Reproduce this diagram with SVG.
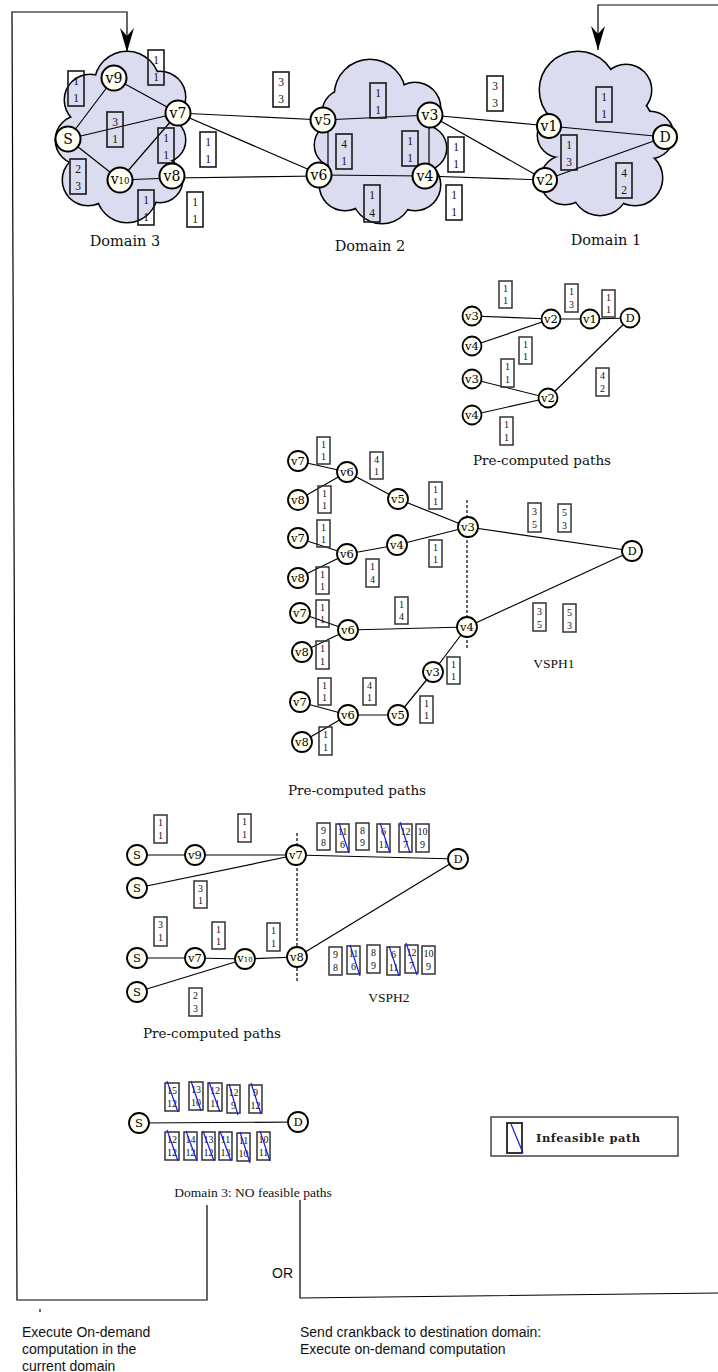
<svg xmlns="http://www.w3.org/2000/svg" xmlns:xlink="http://www.w3.org/1999/xlink" width="718" height="1372" viewBox="0 0 718 1372">
<style>
.bg{fill:#fff}
.clo{fill:#dcdcf0;stroke:#000;stroke-width:3}
.cli{fill:#dcdcf0;stroke:none}
.nd circle{fill:#fffff4;stroke:#000;stroke-width:2}
.nd text{font-family:"DejaVu Serif","Liberation Serif",serif;font-size:14px;text-anchor:middle;fill:#000}
.sm circle{stroke-width:1.8}
.sm text{font-size:11.5px}
.ed line,.ed polyline{stroke:#000;stroke-width:1.2;fill:none}
.dash{stroke:#000;stroke-width:1;stroke-dasharray:3 2;fill:none}
.fb{stroke:#000;stroke-width:1.5;fill:none}
.bx rect{fill:none;stroke:#1a1a1a;stroke-width:1.6}
.bx text{font-family:"Liberation Serif","DejaVu Serif",serif;font-size:11.5px;text-anchor:middle;fill:#111}
.bs rect{stroke:#333;stroke-width:1.5}
.bs text{font-size:10px}
.x{stroke:#1a1ae6;stroke-width:1.2}
.lbl{font-family:"DejaVu Serif","Liberation Serif",serif;font-size:13.5px;text-anchor:middle;fill:#111}
.dom{font-size:14.5px}
.lbt{font-family:"Liberation Serif","DejaVu Serif",serif;font-size:13.5px;text-anchor:middle;fill:#111}
.sans{font-family:"Liberation Sans",Arial,sans-serif;font-size:14px;fill:#111}
</style>
<defs>
<marker id="arr" viewBox="0 0 14 24" refX="7" refY="24" markerWidth="14" markerHeight="24" markerUnits="userSpaceOnUse" orient="0">
<path d="M0,0 L7,8 L14,0 L7,24 z" fill="#000"/>
</marker>
<g id="c3">
<circle cx="121" cy="137" r="50"/><circle cx="127" cy="84" r="32"/><circle cx="90" cy="100" r="25"/><circle cx="80" cy="140" r="24"/><circle cx="88" cy="180" r="25"/><circle cx="127" cy="192" r="30"/><circle cx="160" cy="180" r="22"/><circle cx="163" cy="140" r="22"/><circle cx="160" cy="97" r="25"/>
</g>
<g id="c2">
<circle cx="380" cy="142" r="50"/><circle cx="370" cy="95" r="35"/><circle cx="415" cy="108" r="25"/><circle cx="424" cy="148" r="22"/><circle cx="415" cy="185" r="25"/><circle cx="382" cy="193" r="30"/><circle cx="345" cy="185" r="25"/><circle cx="337" cy="145" r="22"/><circle cx="345" cy="112" r="22"/>
</g>
<g id="c1">
<circle cx="605" cy="135" r="50"/><circle cx="578" cy="90" r="38"/><circle cx="626" cy="90" r="25"/><circle cx="650" cy="135" r="23"/><circle cx="635" cy="178" r="27"/><circle cx="600" cy="187" r="28"/><circle cx="565" cy="180" r="24"/><circle cx="560" cy="135" r="22"/>
</g>
</defs>
<rect class="bg" width="718" height="1372"/>

<g id="domain3-cloud"><use xlink:href="#c3" class="clo"/><use xlink:href="#c3" class="cli"/></g>
<g id="domain2-cloud"><use xlink:href="#c2" class="clo"/><use xlink:href="#c2" class="cli"/></g>
<g id="domain1-cloud"><use xlink:href="#c1" class="clo"/><use xlink:href="#c1" class="cli"/></g>

<g id="connectors" class="ed">
<polyline class="fb" points="207,1205 207,1300 17,1300 12,12 127,12 127,52" marker-end="url(#arr)"/>
<polyline class="fb" points="300,1200 300,1298 718,1293"/>
<polyline class="fb" points="718,5 598,5 598,50" marker-end="url(#arr)"/>
<line x1="40" y1="1309" x2="40" y2="1312" class="fb"/>
<line x1="68" y1="139" x2="114" y2="78"/>
<line x1="68" y1="139" x2="178" y2="113"/>
<line x1="68" y1="139" x2="120" y2="180"/>
<line x1="114" y1="78" x2="178" y2="113"/>
<line x1="178" y1="113" x2="120" y2="180"/>
<line x1="120" y1="180" x2="172" y2="178"/>
<line x1="178" y1="113" x2="323" y2="120"/>
<line x1="178" y1="113" x2="319" y2="174"/>
<line x1="172" y1="178" x2="319" y2="176"/>
<line x1="323" y1="120" x2="430" y2="115"/>
<line x1="328" y1="125" x2="328" y2="168"/>
<line x1="429" y1="118" x2="429" y2="170"/>
<line x1="319" y1="175" x2="425" y2="176"/>
<line x1="430" y1="115" x2="549" y2="126"/>
<line x1="430" y1="115" x2="545" y2="180"/>
<line x1="425" y1="176" x2="545" y2="180"/>
<line x1="549" y1="126" x2="665" y2="137"/>
<line x1="545" y1="180" x2="665" y2="137"/>

<line x1="472" y1="316" x2="551" y2="319"/>
<line x1="472" y1="346" x2="551" y2="319"/>
<line x1="551" y1="319" x2="590" y2="319"/>
<line x1="590" y1="319" x2="630" y2="318"/>
<line x1="472" y1="379" x2="548" y2="398"/>
<line x1="472" y1="415" x2="548" y2="398"/>
<line x1="548" y1="398" x2="630" y2="318"/>

<line x1="298" y1="461" x2="347" y2="472"/>
<line x1="298" y1="500" x2="347" y2="472"/>
<line x1="347" y1="472" x2="398" y2="499"/>
<line x1="398" y1="499" x2="468" y2="527"/>
<line x1="298" y1="538" x2="347" y2="554"/>
<line x1="298" y1="578" x2="347" y2="554"/>
<line x1="347" y1="554" x2="397" y2="545"/>
<line x1="397" y1="545" x2="468" y2="527"/>
<line x1="300" y1="613" x2="348" y2="630"/>
<line x1="302" y1="652" x2="348" y2="630"/>
<line x1="348" y1="630" x2="467" y2="627"/>
<line x1="300" y1="702" x2="348" y2="715"/>
<line x1="302" y1="742" x2="348" y2="715"/>
<line x1="348" y1="715" x2="398" y2="715"/>
<line x1="398" y1="715" x2="433" y2="672"/>
<line x1="433" y1="672" x2="467" y2="627"/>
<line x1="468" y1="527" x2="632" y2="551"/>
<line x1="467" y1="627" x2="632" y2="551"/>
<line class="dash" x1="467" y1="500" x2="467" y2="650"/>

<line x1="137" y1="855" x2="195" y2="855"/>
<line x1="195" y1="855" x2="296" y2="855"/>
<line x1="137" y1="888" x2="296" y2="855"/>
<line x1="296" y1="855" x2="458" y2="859"/>
<line x1="137" y1="958" x2="195" y2="958"/>
<line x1="195" y1="958" x2="245" y2="959"/>
<line x1="137" y1="992" x2="245" y2="959"/>
<line x1="245" y1="959" x2="297" y2="957"/>
<line x1="297" y1="957" x2="458" y2="859"/>
<line class="dash" x1="297" y1="833" x2="297" y2="983"/>

<line x1="139" y1="1123" x2="298" y2="1122"/>
</g>

<g id="weights-top" class="bx">
<g transform="translate(68,71)"><rect width="16" height="35"/><text x="8" y="14">1</text><text x="8" y="31">1</text></g>
<g transform="translate(148,50)"><rect width="16" height="35"/><text x="8" y="14">1</text><text x="8" y="31">1</text></g>
<g transform="translate(107,112)"><rect width="16" height="35"/><text x="8" y="14">3</text><text x="8" y="31">1</text></g>
<g transform="translate(158,128)"><rect width="16" height="35"/><text x="8" y="14">1</text><text x="8" y="31">1</text></g>
<g transform="translate(70,159)"><rect width="16" height="35"/><text x="8" y="14">2</text><text x="8" y="31">3</text></g>
<g transform="translate(138,190)"><rect width="16" height="35"/><text x="8" y="14">1</text><text x="8" y="31">1</text></g>
<g transform="translate(200,132)"><rect width="16" height="35"/><text x="8" y="14">1</text><text x="8" y="31">1</text></g>
<g transform="translate(187,192)"><rect width="16" height="35"/><text x="8" y="14">1</text><text x="8" y="31">1</text></g>
<g transform="translate(273,72)"><rect width="16" height="35"/><text x="8" y="14">3</text><text x="8" y="31">3</text></g>
<g transform="translate(370,83)"><rect width="16" height="35"/><text x="8" y="14">1</text><text x="8" y="31">1</text></g>
<g transform="translate(336,134)"><rect width="16" height="35"/><text x="8" y="14">4</text><text x="8" y="31">1</text></g>
<g transform="translate(402,131)"><rect width="16" height="35"/><text x="8" y="14">1</text><text x="8" y="31">1</text></g>
<g transform="translate(448,137)"><rect width="16" height="35"/><text x="8" y="14">1</text><text x="8" y="31">1</text></g>
<g transform="translate(364,185)"><rect width="16" height="37"/><text x="8" y="14">1</text><text x="8" y="32">4</text></g>
<g transform="translate(446,185)"><rect width="16" height="35"/><text x="8" y="14">1</text><text x="8" y="31">1</text></g>
<g transform="translate(487,76)"><rect width="16" height="35"/><text x="8" y="14">3</text><text x="8" y="31">3</text></g>
<g transform="translate(596,87)"><rect width="16" height="35"/><text x="8" y="14">1</text><text x="8" y="31">1</text></g>
<g transform="translate(561,135)"><rect width="16" height="35"/><text x="8" y="14">1</text><text x="8" y="31">3</text></g>
<g transform="translate(616,163)"><rect width="16" height="35"/><text x="8" y="14">4</text><text x="8" y="31">2</text></g>
</g>

<g id="weights-small" class="bx bs">
<g transform="translate(499,281)"><rect width="13" height="27"/><text x="6.5" y="11">1</text><text x="6.5" y="23">1</text></g>
<g transform="translate(565,284)"><rect width="13" height="28"/><text x="6.5" y="11">1</text><text x="6.5" y="24">3</text></g>
<g transform="translate(602,290)"><rect width="13" height="27"/><text x="6.5" y="11">1</text><text x="6.5" y="23">1</text></g>
<g transform="translate(519,337)"><rect width="13" height="27"/><text x="6.5" y="11">1</text><text x="6.5" y="23">1</text></g>
<g transform="translate(501,359)"><rect width="13" height="28"/><text x="6.5" y="11">1</text><text x="6.5" y="24">1</text></g>
<g transform="translate(596,368)"><rect width="13" height="28"/><text x="6.5" y="11">4</text><text x="6.5" y="24">2</text></g>
<g transform="translate(500,417)"><rect width="13" height="28"/><text x="6.5" y="11">1</text><text x="6.5" y="24">1</text></g>

<g transform="translate(317,437)"><rect width="13" height="27"/><text x="6.5" y="11">1</text><text x="6.5" y="23">1</text></g>
<g transform="translate(370,452)"><rect width="13" height="27"/><text x="6.5" y="11">4</text><text x="6.5" y="23">1</text></g>
<g transform="translate(318,486)"><rect width="13" height="27"/><text x="6.5" y="11">1</text><text x="6.5" y="23">1</text></g>
<g transform="translate(429,482)"><rect width="13" height="27"/><text x="6.5" y="11">1</text><text x="6.5" y="23">1</text></g>
<g transform="translate(317,520)"><rect width="13" height="27"/><text x="6.5" y="11">1</text><text x="6.5" y="23">1</text></g>
<g transform="translate(366,559)"><rect width="13" height="28"/><text x="6.5" y="11">1</text><text x="6.5" y="24">4</text></g>
<g transform="translate(429,540)"><rect width="13" height="27"/><text x="6.5" y="11">1</text><text x="6.5" y="23">1</text></g>
<g transform="translate(316,567)"><rect width="13" height="27"/><text x="6.5" y="11">1</text><text x="6.5" y="23">1</text></g>
<g transform="translate(395,597)"><rect width="13" height="27"/><text x="6.5" y="11">1</text><text x="6.5" y="23">4</text></g>
<g transform="translate(316,600)"><rect width="13" height="27"/><text x="6.5" y="11">1</text><text x="6.5" y="23">1</text></g>
<g transform="translate(316,641)"><rect width="13" height="28"/><text x="6.5" y="11">1</text><text x="6.5" y="24">1</text></g>
<g transform="translate(447,657)"><rect width="13" height="27"/><text x="6.5" y="11">1</text><text x="6.5" y="23">1</text></g>
<g transform="translate(318,678)"><rect width="13" height="27"/><text x="6.5" y="11">1</text><text x="6.5" y="23">1</text></g>
<g transform="translate(363,678)"><rect width="13" height="27"/><text x="6.5" y="11">4</text><text x="6.5" y="23">1</text></g>
<g transform="translate(420,696)"><rect width="13" height="27"/><text x="6.5" y="11">1</text><text x="6.5" y="23">1</text></g>
<g transform="translate(319,727)"><rect width="13" height="28"/><text x="6.5" y="11">1</text><text x="6.5" y="24">1</text></g>
<g transform="translate(528,503)"><rect width="13" height="29"/><text x="6.5" y="12">3</text><text x="6.5" y="25">5</text></g>
<g transform="translate(558,504)"><rect width="13" height="28"/><text x="6.5" y="12">5</text><text x="6.5" y="25">3</text></g>
<g transform="translate(533,603)"><rect width="13" height="28"/><text x="6.5" y="12">3</text><text x="6.5" y="25">5</text></g>
<g transform="translate(563,604)"><rect width="13" height="28"/><text x="6.5" y="12">5</text><text x="6.5" y="25">3</text></g>

<g transform="translate(154,815)"><rect width="13" height="28"/><text x="6.5" y="11">1</text><text x="6.5" y="24">1</text></g>
<g transform="translate(238,814)"><rect width="13" height="28"/><text x="6.5" y="11">1</text><text x="6.5" y="24">1</text></g>
<g transform="translate(194,881)"><rect width="13" height="27"/><text x="6.5" y="11">3</text><text x="6.5" y="23">1</text></g>
<g transform="translate(154,917)"><rect width="13" height="29"/><text x="6.5" y="11">3</text><text x="6.5" y="24">1</text></g>
<g transform="translate(212,922)"><rect width="13" height="27"/><text x="6.5" y="11">1</text><text x="6.5" y="23">1</text></g>
<g transform="translate(267,923)"><rect width="13" height="28"/><text x="6.5" y="11">1</text><text x="6.5" y="24">1</text></g>
<g transform="translate(189,988)"><rect width="13" height="28"/><text x="6.5" y="11">2</text><text x="6.5" y="24">3</text></g>
</g>

<g id="weights-vsph2" class="bx bs">
<g transform="translate(317,823)"><rect width="13" height="27"/><text x="6.5" y="11">9</text><text x="6.5" y="23">8</text></g>
<g transform="translate(336,824)"><rect width="13" height="28"/><text x="6.5" y="11">11</text><text x="6.5" y="24">6</text><line class="x" x1="3" y1="-1" x2="13" y2="29"/></g>
<g transform="translate(356,823)"><rect width="13" height="27"/><text x="6.5" y="11">8</text><text x="6.5" y="23">9</text></g>
<g transform="translate(377,824)"><rect width="13" height="28"/><text x="6.5" y="11">6</text><text x="6.5" y="24">11</text><line class="x" x1="3" y1="-1" x2="13" y2="29"/></g>
<g transform="translate(399,824)"><rect width="13" height="28"/><text x="6.5" y="11">12</text><text x="6.5" y="24">7</text><line class="x" x1="1" y1="-2" x2="11" y2="29"/></g>
<g transform="translate(416,824)"><rect width="13" height="28"/><text x="6.5" y="11">10</text><text x="6.5" y="24">9</text></g>
<g transform="translate(329,947)"><rect width="13" height="28"/><text x="6.5" y="11">9</text><text x="6.5" y="24">8</text></g>
<g transform="translate(347,946)"><rect width="13" height="28"/><text x="6.5" y="11">11</text><text x="6.5" y="24">6</text><line class="x" x1="3" y1="-1" x2="13" y2="30"/></g>
<g transform="translate(367,945)"><rect width="13" height="28"/><text x="6.5" y="11">8</text><text x="6.5" y="24">9</text></g>
<g transform="translate(387,947)"><rect width="13" height="28"/><text x="6.5" y="11">6</text><text x="6.5" y="24">11</text><line class="x" x1="2" y1="-1" x2="12" y2="29"/></g>
<g transform="translate(405,945)"><rect width="13" height="28"/><text x="6.5" y="11">12</text><text x="6.5" y="24">7</text><line class="x" x1="1" y1="-2" x2="12" y2="30"/></g>
<g transform="translate(422,946)"><rect width="13" height="28"/><text x="6.5" y="11">10</text><text x="6.5" y="24">9</text></g>
</g>

<g id="weights-domain3" class="bx bs">
<g transform="translate(165,1083)"><rect width="14" height="28"/><text x="7" y="11">15</text><text x="7" y="24">12</text><line class="x" x1="2" y1="-2" x2="13" y2="29"/></g>
<g transform="translate(189,1082)"><rect width="14" height="28"/><text x="7" y="11">13</text><text x="7" y="24">10</text><line class="x" x1="2" y1="-1" x2="12" y2="29"/></g>
<g transform="translate(208,1083)"><rect width="14" height="28"/><text x="7" y="11">12</text><text x="7" y="24">11</text><line class="x" x1="1" y1="-1" x2="12" y2="29"/></g>
<g transform="translate(227,1085)"><rect width="13" height="28"/><text x="6.5" y="11">12</text><text x="6.5" y="24">9</text><line class="x" x1="2" y1="-1" x2="11" y2="30"/></g>
<g transform="translate(249,1085)"><rect width="13" height="28"/><text x="6.5" y="11">9</text><text x="6.5" y="24">12</text><line class="x" x1="2" y1="-2" x2="12" y2="29"/></g>
<g transform="translate(165,1132)"><rect width="14" height="28"/><text x="7" y="11">12</text><text x="7" y="24">12</text><line class="x" x1="2" y1="-2" x2="13" y2="29"/></g>
<g transform="translate(184,1132)"><rect width="13" height="28"/><text x="6.5" y="11">14</text><text x="6.5" y="24">12</text><line class="x" x1="2" y1="-1" x2="13" y2="29"/></g>
<g transform="translate(202,1132)"><rect width="13" height="28"/><text x="6.5" y="11">13</text><text x="6.5" y="24">12</text><line class="x" x1="1" y1="-1" x2="12" y2="29"/></g>
<g transform="translate(219,1132)"><rect width="13" height="28"/><text x="6.5" y="11">11</text><text x="6.5" y="24">13</text><line class="x" x1="1" y1="-1" x2="12" y2="29"/></g>
<g transform="translate(237,1133)"><rect width="13" height="28"/><text x="6.5" y="11">11</text><text x="6.5" y="24">10</text><line class="x" x1="3" y1="-1" x2="13" y2="30"/></g>
<g transform="translate(257,1132)"><rect width="13" height="28"/><text x="6.5" y="11">10</text><text x="6.5" y="24">11</text><line class="x" x1="3" y1="-1" x2="13" y2="29"/></g>
</g>

<g id="n-S" class="nd"><circle cx="68" cy="139" r="12.5"/><text x="68" y="144">S</text></g>
<g id="n-v9" class="nd"><circle cx="114" cy="78" r="12.5"/><text x="114" y="83">v9</text></g>
<g id="n-v7" class="nd"><circle cx="178" cy="113" r="12.5"/><text x="178" y="118">v7</text></g>
<g id="n-v10" class="nd"><circle cx="120" cy="180" r="12.5"/><text x="120" y="184"><tspan>v</tspan><tspan font-size="8.5">10</tspan></text></g>
<g id="n-v8" class="nd"><circle cx="172" cy="176" r="12.5"/><text x="172" y="181">v8</text></g>
<g id="n-v5" class="nd"><circle cx="323" cy="120" r="12.5"/><text x="323" y="125">v5</text></g>
<g id="n-v3" class="nd"><circle cx="430" cy="115" r="12.5"/><text x="430" y="120">v3</text></g>
<g id="n-v6" class="nd"><circle cx="319" cy="175" r="12.5"/><text x="319" y="180">v6</text></g>
<g id="n-v4" class="nd"><circle cx="425" cy="176" r="12.5"/><text x="425" y="181">v4</text></g>
<g id="n-v1" class="nd"><circle cx="549" cy="126" r="12"/><text x="549" y="131" font-size="13">v1</text></g>
<g id="n-v2" class="nd"><circle cx="545" cy="180" r="12"/><text x="545" y="185" font-size="12">v2</text></g>
<g id="n-D" class="nd"><circle cx="665" cy="137" r="12"/><text x="665" y="142">D</text></g>

<g id="pc1-v3a" class="nd sm"><circle cx="472" cy="316" r="9.5"/><text x="472" y="320">v3</text></g>
<g id="pc1-v4a" class="nd sm"><circle cx="472" cy="346" r="9.5"/><text x="472" y="350">v4</text></g>
<g id="pc1-v2a" class="nd sm"><circle cx="551" cy="319" r="9.5"/><text x="551" y="323">v2</text></g>
<g id="pc1-v1" class="nd sm"><circle cx="590" cy="319" r="9.5"/><text x="590" y="323">v1</text></g>
<g id="pc1-D" class="nd sm"><circle cx="630" cy="318" r="9.5"/><text x="630" y="322">D</text></g>
<g id="pc1-v3b" class="nd sm"><circle cx="472" cy="379" r="9.5"/><text x="472" y="383">v3</text></g>
<g id="pc1-v2b" class="nd sm"><circle cx="548" cy="398" r="9.5"/><text x="548" y="402">v2</text></g>
<g id="pc1-v4b" class="nd sm"><circle cx="472" cy="415" r="9.5"/><text x="472" y="419">v4</text></g>

<g id="vs1-v7a" class="nd sm"><circle cx="298" cy="461" r="10"/><text x="298" y="465">v7</text></g>
<g id="vs1-v6a" class="nd sm"><circle cx="347" cy="472" r="10"/><text x="347" y="476">v6</text></g>
<g id="vs1-v8a" class="nd sm"><circle cx="298" cy="500" r="10"/><text x="298" y="504">v8</text></g>
<g id="vs1-v5a" class="nd sm"><circle cx="398" cy="499" r="10"/><text x="398" y="503">v5</text></g>
<g id="vs1-v3" class="nd sm"><circle cx="468" cy="527" r="10"/><text x="468" y="531">v3</text></g>
<g id="vs1-v7b" class="nd sm"><circle cx="298" cy="538" r="10"/><text x="298" y="542">v7</text></g>
<g id="vs1-v6b" class="nd sm"><circle cx="347" cy="554" r="10"/><text x="347" y="558">v6</text></g>
<g id="vs1-v4a" class="nd sm"><circle cx="397" cy="545" r="10"/><text x="397" y="549">v4</text></g>
<g id="vs1-v8b" class="nd sm"><circle cx="298" cy="578" r="10"/><text x="298" y="582">v8</text></g>
<g id="vs1-v7c" class="nd sm"><circle cx="300" cy="613" r="10"/><text x="300" y="617">v7</text></g>
<g id="vs1-v6c" class="nd sm"><circle cx="348" cy="630" r="10"/><text x="348" y="634">v6</text></g>
<g id="vs1-v8c" class="nd sm"><circle cx="302" cy="652" r="10"/><text x="302" y="656">v8</text></g>
<g id="vs1-v4" class="nd sm"><circle cx="467" cy="627" r="10"/><text x="467" y="631">v4</text></g>
<g id="vs1-v3b" class="nd sm"><circle cx="433" cy="672" r="10"/><text x="433" y="676">v3</text></g>
<g id="vs1-v7d" class="nd sm"><circle cx="300" cy="702" r="10"/><text x="300" y="706">v7</text></g>
<g id="vs1-v6d" class="nd sm"><circle cx="348" cy="715" r="10"/><text x="348" y="719">v6</text></g>
<g id="vs1-v5b" class="nd sm"><circle cx="398" cy="715" r="10"/><text x="398" y="719">v5</text></g>
<g id="vs1-v8d" class="nd sm"><circle cx="302" cy="742" r="10"/><text x="302" y="746">v8</text></g>
<g id="vs1-D" class="nd sm"><circle cx="632" cy="551" r="10"/><text x="632" y="555">D</text></g>

<g id="vs2-S1" class="nd sm"><circle cx="137" cy="855" r="10"/><text x="137" y="859">S</text></g>
<g id="vs2-v9" class="nd sm"><circle cx="195" cy="855" r="10"/><text x="195" y="859">v9</text></g>
<g id="vs2-v7" class="nd sm"><circle cx="296" cy="855" r="10"/><text x="296" y="859">v7</text></g>
<g id="vs2-S2" class="nd sm"><circle cx="137" cy="888" r="10"/><text x="137" y="892">S</text></g>
<g id="vs2-S3" class="nd sm"><circle cx="137" cy="958" r="10"/><text x="137" y="962">S</text></g>
<g id="vs2-v7b" class="nd sm"><circle cx="195" cy="958" r="10"/><text x="195" y="962">v7</text></g>
<g id="vs2-v10" class="nd sm"><circle cx="245" cy="959" r="10"/><text x="245" y="962"><tspan>v</tspan><tspan font-size="7">10</tspan></text></g>
<g id="vs2-v8" class="nd sm"><circle cx="297" cy="957" r="10"/><text x="297" y="961">v8</text></g>
<g id="vs2-S4" class="nd sm"><circle cx="137" cy="992" r="10"/><text x="137" y="996">S</text></g>
<g id="vs2-D" class="nd sm"><circle cx="458" cy="859" r="10"/><text x="458" y="863">D</text></g>

<g id="d3-S" class="nd sm"><circle cx="139" cy="1123" r="10"/><text x="139" y="1127">S</text></g>
<g id="d3-D" class="nd sm"><circle cx="298" cy="1122" r="10"/><text x="298" y="1126">D</text></g>

<g id="legend">
<rect x="491" y="1117" width="187" height="39" fill="#fff" stroke="#444" stroke-width="1.5"/>
<rect x="507" y="1123" width="15" height="30" fill="none" stroke="#222" stroke-width="1.8"/>
<line class="x" x1="511" y1="1124" x2="523" y2="1153"/>
<text x="536" y="1142" font-family="DejaVu Serif, Liberation Serif, serif" font-size="11.5" font-weight="bold" letter-spacing="0.5" fill="#222">Infeasible path</text>
</g>

<g id="labels">
<text class="lbl dom" x="125" y="246">Domain 3</text>
<text class="lbl dom" x="370" y="251">Domain 2</text>
<text class="lbl dom" x="606" y="245">Domain 1</text>
<text class="lbl" x="542" y="465">Pre-computed paths</text>
<text class="lbt" x="554" y="668">VSPH1</text>
<text class="lbl" x="357" y="795">Pre-computed paths</text>
<text class="lbt" x="389" y="1002">VSPH2</text>
<text class="lbl" x="212" y="1038">Pre-computed paths</text>
<text class="lbt" x="253" y="1197">Domain 3: NO feasible paths</text>
<text class="sans" x="272" y="1278">OR</text>
<text class="sans" x="22" y="1337">Execute On-demand</text>
<text class="sans" x="22" y="1354">computation in the</text>
<text class="sans" x="22" y="1371">current domain</text>
<text class="sans" x="300" y="1337">Send crankback to destination domain:</text>
<text class="sans" x="300" y="1354">Execute on-demand computation</text>
</g>
</svg>
